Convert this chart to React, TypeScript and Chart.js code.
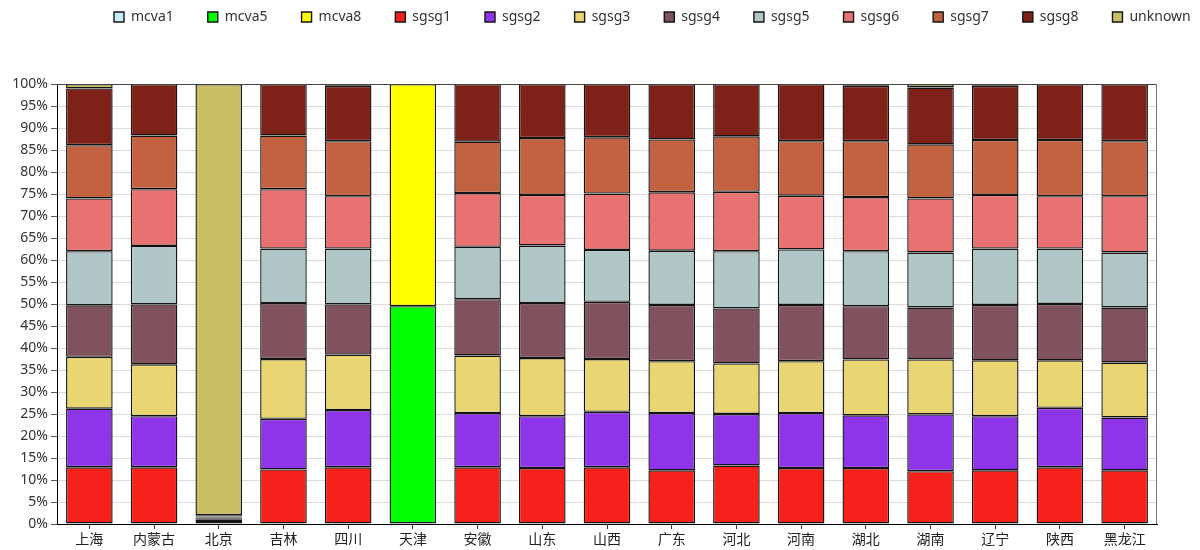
import React, { useEffect, useRef } from "react";
import { Chart, registerables } from "chart.js";

Chart.register(...registerables);

const categories = ["上海", "内蒙古", "北京", "吉林", "四川", "天津", "安徽", "山东", "山西", "广东", "河北", "河南", "湖北", "湖南", "辽宁", "陕西", "黑龙江"];

const seriesNames = ["mcva1", "mcva5", "mcva8", "sgsg1", "sgsg2", "sgsg3", "sgsg4", "sgsg5", "sgsg6", "sgsg7", "sgsg8", "unknown"];

const seriesColors = ["#c4ecfb", "#00ff00", "#ffff00", "#f5211a", "#8e35ea", "#e9d673", "#7f525d", "#b0c6c7", "#e87272", "#c26241", "#7e2119", "#c9bf64"];

const N = null;
const mcva1 = [N, N, N, N, N, N, N, N, N, N, N, N, N, N, N, N, N];
const mcva5 = [N, N, N, N, N, 49.5, N, N, N, N, N, N, N, N, N, N, N];
const mcva8 = [N, N, N, N, N, 50.5, N, N, N, N, N, N, N, N, N, N, N];
const sgsg1 = [12.9, 12.9, 0.2, 12.4, 12.9, N, 12.9, 12.7, 12.9, 12.2, 13.3, 12.7, 12.7, 12.0, 12.2, 12.9, 12.2];
const sgsg2 = [13.3, 11.6, 0.5, 11.5, 13.0, N, 12.3, 11.8, 12.6, 13.0, 11.7, 12.5, 12.0, 12.9, 12.3, 13.5, 12.0];
const sgsg3 = [11.8, 11.8, 0.2, 13.6, 12.6, N, 13.1, 13.2, 12.0, 11.8, 11.5, 11.8, 12.7, 12.5, 12.7, 10.8, 12.5];
const sgsg4 = [11.7, 13.6, 0.2, 12.7, 11.4, N, 12.8, 12.5, 13.0, 12.8, 12.5, 12.8, 12.1, 11.8, 12.6, 12.8, 12.5];
const sgsg5 = [12.3, 13.3, 0.2, 12.4, 12.7, N, 11.9, 13.1, 11.8, 12.3, 13.0, 12.6, 12.5, 12.5, 12.8, 12.6, 12.5];
const sgsg6 = [12.0, 12.9, 0.2, 13.5, 11.9, N, 12.2, 11.5, 12.8, 13.3, 13.5, 12.2, 12.3, 12.3, 12.2, 11.9, 12.8];
const sgsg7 = [12.1, 12.2, 0.2, 12.2, 12.5, N, 11.7, 12.9, 12.8, 12.0, 12.6, 12.4, 12.7, 12.3, 12.5, 12.8, 12.5];
const sgsg8 = [12.9, 11.7, 0.3, 11.7, 12.6, N, 13.1, 12.3, 12.1, 12.6, 11.9, 13.0, 12.6, 12.9, 12.3, 12.7, 13.0];
const unknown = [1.0, N, 98.0, N, 0.4, N, N, N, N, N, N, N, 0.4, 0.8, 0.4, N, N];

const seriesValues = [mcva1, mcva5, mcva8, sgsg1, sgsg2, sgsg3, sgsg4, sgsg5, sgsg6, sgsg7, sgsg8, unknown];

const yTicks = [0, 5, 10, 15, 20, 25, 30, 35, 40, 45, 50, 55, 60, 65, 70, 75, 80, 85, 90, 95, 100];

const FONT = "'Noto Sans', 'Noto Sans CJK SC', sans-serif";
const LEGEND_PAD = 34;
const LEGEND_FONT = 14;

export default function App() {
  const ref = useRef<HTMLCanvasElement | null>(null);

  useEffect(() => {
    if (!ref.current) return;
    Chart.defaults.font.family = FONT;
    Chart.defaults.font.size = 14;
    Chart.defaults.color = "#333";

    const layoutPlugin = {
      id: "layoutTweak",
      beforeUpdate(chart: any) {
        const legend = chart.legend;
        if (legend && !legend._patchedFit) {
          const origFit = legend.fit;
          legend.fit = function () {
            const mw = this.maxWidth;
            this.maxWidth = 3000;
            origFit.call(this);
            this.maxWidth = mw;
            this.width = mw;
          };
          legend._patchedFit = true;
        }
      },
      afterLayout(chart: any) {
        const legend = chart.legend;
        if (legend) {
          legend.top = 10 - LEGEND_PAD;
          legend.left = 114 - LEGEND_PAD;
          legend.right = 3000;
        }
      },
      afterDraw(chart: any) {
        const { ctx, chartArea } = chart;
        ctx.save();
        ctx.lineWidth = 1;
        ctx.strokeStyle = "#444";
        ctx.beginPath();
        ctx.moveTo(chartArea.left, chartArea.top + 0.5);
        ctx.lineTo(chartArea.right, chartArea.top + 0.5);
        ctx.stroke();
        ctx.strokeStyle = "#777";
        ctx.beginPath();
        ctx.moveTo(chartArea.right - 0.5, chartArea.top);
        ctx.lineTo(chartArea.right - 0.5, chartArea.bottom);
        ctx.stroke();
        ctx.restore();
      },
    };

    const chart = new Chart(ref.current, {
      type: "bar",
      data: {
        labels: categories,
        datasets: seriesNames.map((name, i) => ({
          label: name,
          data: seriesValues[i],
          backgroundColor: seriesColors[i],
          borderColor: "#141414",
          borderWidth: 1.4,
          borderSkipped: false,
          categoryPercentage: 1,
          barPercentage: 0.72,
        })),
      },
      options: {
        animation: false,
        responsive: false,
        maintainAspectRatio: false,
        layout: { padding: { top: 84 - (LEGEND_FONT + LEGEND_PAD + 10), right: 43, left: 0, bottom: 0 } },
        plugins: {
          tooltip: { enabled: false },
          legend: {
            position: "top",
            align: "start",
            labels: {
              boxWidth: 10,
              boxHeight: 10,
              padding: LEGEND_PAD,
              color: "#333",
              font: { size: LEGEND_FONT, family: FONT },
            },
          },
        },
        scales: {
          x: {
            stacked: true,
            grid: {
              display: true,
              drawOnChartArea: false,
              drawTicks: true,
              tickLength: 5,
              tickColor: "#333",
              offset: false,
            },
            border: { display: true, color: "#000", width: 1 },
            ticks: {
              autoSkip: false,
              maxRotation: 0,
              padding: 3,
              color: "#222",
              font: { size: 14, family: FONT },
            },
            afterFit(scale: any) {
              scale.height = 26;
            },
          },
          y: {
            stacked: true,
            min: 0,
            max: 100,
            afterBuildTicks(scale: any) {
              scale.ticks = yTicks.map((v) => ({ value: v }));
            },
            grid: {
              color: "#dcdcdc",
              lineWidth: 1,
              drawTicks: true,
              tickLength: 6,
              tickColor: "#555",
            },
            border: { display: true, color: "#000", width: 1 },
            ticks: {
              padding: 3,
              color: "#333",
              font: { size: 14, family: FONT },
              callback: (v: any) => v + "%",
            },
            afterFit(scale: any) {
              scale.width = 57;
            },
          },
        },
      },
      plugins: [layoutPlugin],
    } as any);

    return () => chart.destroy();
  }, []);

  return (
    <div style={{ position: "absolute", left: 0, top: 0, width: 1200, height: 550 }}>
      <canvas ref={ref} width={1200} height={550} style={{ width: 1200, height: 550, display: "block" }} />
    </div>
  );
}
